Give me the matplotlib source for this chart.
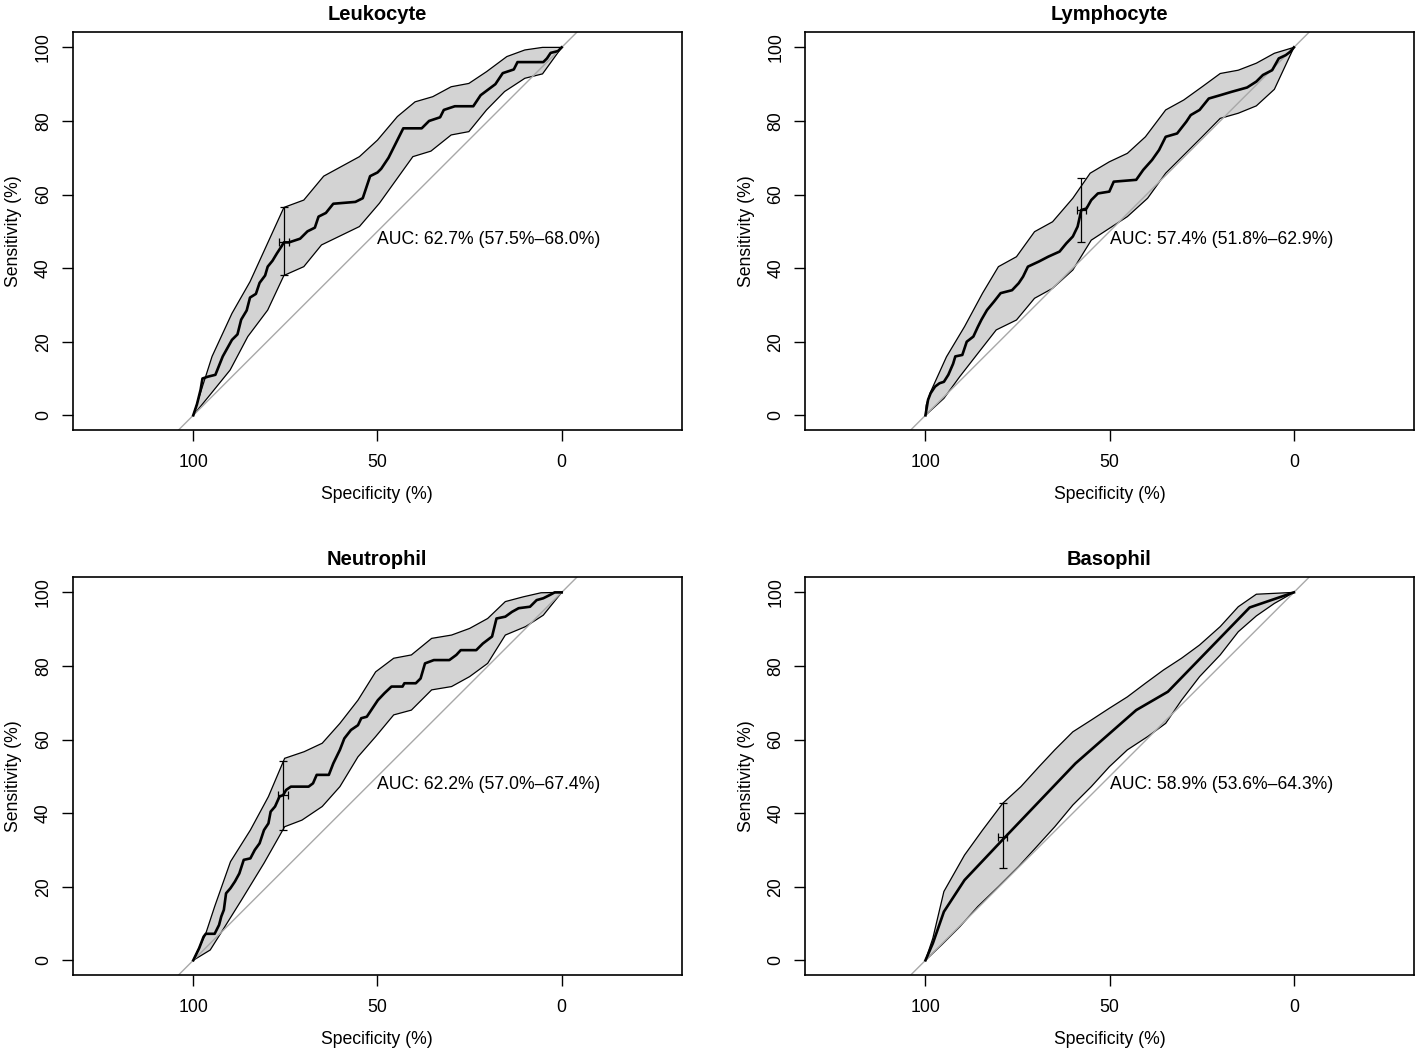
import matplotlib
matplotlib.use("Agg")
import matplotlib.pyplot as plt

plt.rcParams['font.family'] = ['Liberation Sans', 'DejaVu Sans']

titles = ["Leukocyte", "Lymphocyte", "Neutrophil", "Basophil"]
auc = [62.7, 57.4, 62.2, 58.9]
auc_lo = [57.5, 51.8, 57.0, 53.6]
auc_hi = [68.0, 62.9, 67.4, 64.3]

# main ROC curves (specificity %, sensitivity %)
leuk_spec = [100, 99, 98, 97.5, 96, 94, 92, 89.5, 88, 87, 85.5, 84.6, 83, 82, 80.5, 79.8, 78.5, 77.3, 76, 75.4,
             74, 71, 69, 67, 66, 64, 62, 56, 54, 53, 52, 50, 49, 47, 46, 44, 43, 38, 36, 33,
             32, 29, 24, 22, 20, 18, 16, 13, 12, 5, 4, 3, 1, 0]
leuk_sens = [0, 3, 7, 10, 10.5, 11, 16, 20.5, 22, 26, 28.5, 32, 33, 36, 38, 40.4, 42, 44, 46, 47,
             47, 48, 50, 51, 54, 55, 57.5, 58, 59, 62, 65, 66, 67, 70, 72, 76, 78, 78, 80, 81,
             83, 84, 84, 87, 88.5, 90, 93, 94, 96, 96, 97, 98.5, 99, 100]
lymph_spec = [100, 99.3, 98.6, 97.4, 96.2, 95, 93.8, 92.5, 91.9, 90, 88.8, 87, 85.8, 84.8, 83.3, 81.4, 79.6, 76.5,
              74.7, 73.5, 72.2, 69.2, 66.7, 63.6, 61.8, 60, 58.7, 57.7, 56.3, 55, 53.2, 50.1, 48.9, 42.8, 40.9,
              38.5, 36.6, 34.8, 31.7, 29.2, 28, 25.6, 23.1, 20, 17, 12.7, 10.2, 8.4, 5.9, 4.1, 2.2, 1, 0]
lymph_sens = [0, 4.2, 6, 7.8, 8.7, 9.1, 11, 14, 16, 16.4, 20, 21.4, 24, 26, 28.6, 30.9, 33.2, 34,
              35.9, 37.7, 40.4, 41.8, 43.1, 44.5, 46.7, 48.6, 51.3, 55.8, 56.2, 58.5, 60.3, 60.8, 63.5, 64, 66.7,
              69.4, 72.1, 75.7, 76.6, 79.8, 81.6, 83, 86.1, 87, 87.9, 89.1, 90.7, 92.5, 93.8, 97, 97.9, 98.8, 100]
neut_spec = [100, 98.4, 97.2, 96.6, 94.2, 93, 92.4, 91.7, 91.1, 89.9, 88.7, 87.5, 86.3, 84.5, 83.3, 82, 80.8,
             79.6, 79, 77.8, 76.6, 75.6, 74.8, 73.5, 68.7, 67.5, 66.5, 63.2, 62, 60.2, 59, 57.2, 55.3, 54.4,
             52.9, 51.7, 49.9, 48.1, 46.2, 43.2, 42.7, 39.6, 38.3, 37.1, 34.7, 30.5, 28.6, 27.4, 23.2, 21.4,
             18.9, 17.7, 15.3, 13.5, 11.7, 8.6, 6.8, 5, 3.2, 1.9, 0]
neut_sens = [0, 3.3, 6.4, 7.2, 7.2, 9.6, 11.9, 13.7, 18.2, 19.6, 21.4, 23.6, 27.3, 27.7, 30, 31.8, 35.4,
             37.2, 40.4, 41.8, 44.5, 44.9, 46.3, 47.2, 47.2, 48.1, 50.4, 50.4, 53.5, 57.2, 60.3, 62.6, 63.9, 65.8,
             66.2, 68, 70.7, 72.6, 74.4, 74.4, 75.3, 75.3, 76.6, 80.7, 81.6, 81.6, 83, 84.3, 84.3, 86.1,
             88, 92.9, 93.4, 94.7, 95.7, 96.1, 97.9, 98.4, 99.3, 100, 100]
baso_spec = [100, 98, 95, 89.4, 79.6, 59.3, 42.8, 34.2, 12, 0]
baso_sens = [0, 4.6, 13.2, 21.8, 32.2, 53.5, 68, 73, 95.9, 100]

# confidence bands, upper and lower edge
leuk_up_spec = [100, 94.9, 89.5, 84.6, 75.4, 70, 64.6, 54.9, 50, 44.6, 39.8, 35, 30, 25.2, 20.4, 14.9, 10, 5.2, 0]
leuk_up_sens = [0, 16, 27.7, 36.3, 56.5, 58.5, 65, 70.3, 74.8, 81.2, 85.2, 86.6, 89.3, 90.2, 93.4, 97.5, 99.3, 100, 100]
leuk_lo_spec = [100, 95.5, 90, 85.2, 79.8, 75.4, 70, 65.2, 54.9, 49.5, 40.4, 35.5, 30, 25.2, 20.4, 15.5, 10, 5.2, 0]
leuk_lo_sens = [0, 5.5, 12.3, 21.4, 28.6, 38, 40.4, 46.3, 51.3, 57.6, 70.3, 71.8, 76.2, 77.1, 83, 88, 91.6, 92.8, 100]

lymph_up_spec = [100, 99.8, 98.6, 94.3, 89.4, 84.5, 80.2, 75.3, 70.4, 65.5, 60, 55.3, 50.1, 45.2, 40.3, 34.8,
                 29.9, 24.9, 20, 15.1, 10.2, 5.3, 0]
lymph_up_sens = [0, 2.8, 6.4, 15.9, 24.1, 33.2, 40.4, 43.1, 49.9, 52.6, 59, 65.8, 68.9, 71.2, 75.7, 83,
                 85.7, 89.3, 92.9, 93.8, 95.7, 98.4, 100]
lymph_lo_spec = [100, 95, 90.7, 85.8, 80.8, 75.3, 70.4, 65.5, 60, 55, 50.1, 45.2, 39.7, 34.8, 29.9, 24.9,
                 20, 15.1, 10.2, 5.3, 0]
lymph_lo_sens = [0, 4.6, 10.5, 16.8, 23.2, 25.9, 31.8, 34.5, 39.5, 47.6, 50.8, 54, 59, 65.8, 70.7, 75.7,
                 80.7, 82.1, 84.1, 88.6, 100]

neut_up_spec = [100, 96.6, 94.2, 89.9, 84.5, 79.6, 75.2, 69.9, 65, 60.2, 55.3, 50.5, 45.6, 40.8, 35.3, 29.9,
                25, 20.1, 15.3, 10.4, 5.6, 0]
neut_up_sens = [0, 7.3, 14.6, 26.8, 35.4, 44.5, 54.9, 56.7, 59, 64.4, 70.7, 78.4, 82.1, 83, 87.5, 88.4,
                90.2, 92.9, 97.5, 98.8, 99.9, 100]
neut_lo_spec = [100, 95.4, 91.7, 86.9, 80.8, 75.2, 70.5, 65, 60.2, 55.3, 50.5, 45.6, 40.8, 35.3, 29.9, 25,
                20.1, 15.3, 9.8, 5, 0]
neut_lo_sens = [0, 2.8, 8.7, 16.4, 26.4, 36.3, 38.1, 41.8, 47.2, 55.3, 60.8, 66.7, 68, 73.5, 74.4, 77.1,
                80.7, 88.4, 90.7, 93.8, 100]

baso_up_spec = [100, 98, 95, 89.4, 84.5, 79, 74.1, 69.2, 64.9, 60, 55, 50.1, 45.2, 40.3, 35.4, 30.5, 25.6,
                20, 15.1, 10.2, 0]
baso_up_sens = [0, 6, 18.7, 28.6, 35.4, 42.7, 47.2, 52.6, 57.2, 62.1, 65.3, 68.5, 71.6, 75.3, 78.9, 82.1, 85.7,
                90.7, 96.1, 99.5, 100]
baso_lo_spec = [100, 95.6, 90.7, 85.8, 80.2, 74.7, 69.8, 64.9, 60, 55, 50.1, 45.2, 39.7, 34.8, 30.5, 25.6,
                20, 15.1, 10.2, 5.3, 0]
baso_lo_sens = [0, 4.2, 9.1, 14.6, 20, 25.5, 30.9, 36.3, 42.2, 47.2, 52.6, 57.2, 60.8, 64.4, 70.7, 77.1,
                83, 89.3, 93.6, 97, 100]

# best threshold point with its CI (spec, sens, spec range, sens range)
thr_spec = [75.4, 57.7, 75.6, 78.9]
thr_sens = [47.0, 55.8, 44.9, 33.6]
thr_spec_lo = [73.9, 56.3, 74.2, 77.8]
thr_spec_hi = [76.7, 59.0, 76.9, 80.2]
thr_sens_lo = [38.0, 47.0, 35.4, 25.0]
thr_sens_hi = [56.5, 64.6, 54.2, 42.7]

curves = [(leuk_spec, leuk_sens), (lymph_spec, lymph_sens), (neut_spec, neut_sens), (baso_spec, baso_sens)]
bands = [(leuk_up_spec, leuk_up_sens, leuk_lo_spec, leuk_lo_sens),
         (lymph_up_spec, lymph_up_sens, lymph_lo_spec, lymph_lo_sens),
         (neut_up_spec, neut_up_sens, neut_lo_spec, neut_lo_sens),
         (baso_up_spec, baso_up_sens, baso_lo_spec, baso_lo_sens)]

W, H = 1416, 1051
# axes boxes in pixels: left, top
boxes = [(72.8, 32.3), (805, 32.3), (72.8, 577.3), (805, 577.3)]
box_w, box_h = 609, 397.7

fig = plt.figure(figsize=(W / 100, H / 100), dpi=100)

for i in range(4):
    left, top = boxes[i]
    ax = fig.add_axes([left / W, 1 - (top + box_h) / H, box_w / W, box_h / H])

    up_x, up_y, lo_x, lo_y = bands[i]
    poly_x = list(up_x) + list(lo_x)[::-1]
    poly_y = list(up_y) + list(lo_y)[::-1]
    ax.fill(poly_x, poly_y, facecolor='#D3D3D3', edgecolor='black', linewidth=0.9, zorder=1)

    ax.axline((100, 0), (0, 100), color='#A8A8A8', linewidth=1.0, zorder=2)

    sx, sy = curves[i]
    ax.plot(sx, sy, color='black', linewidth=1.9, zorder=3)

    ax.errorbar([thr_spec[i]], [thr_sens[i]],
                xerr=[[thr_spec[i] - thr_spec_lo[i]], [thr_spec_hi[i] - thr_spec[i]]],
                yerr=[[thr_sens[i] - thr_sens_lo[i]], [thr_sens_hi[i] - thr_sens[i]]],
                fmt='none', ecolor='black', elinewidth=0.9, capsize=3, capthick=0.9, zorder=4)

    ax.text(50, 50, "AUC: %.1f%% (%.1f%%\u2013%.1f%%)" % (auc[i], auc_lo[i], auc_hi[i]),
            ha='left', va='top', fontsize=12.7, zorder=5)

    ax.set_xlim(132.7, -32.6)
    ax.set_ylim(-4, 104.1)
    ax.set_xticks([100, 50, 0])
    ax.set_yticks([0, 20, 40, 60, 80, 100])
    ax.tick_params(axis='x', length=8, width=1, labelsize=12.7, pad=9)
    ax.tick_params(axis='y', length=8, width=1, labelsize=12.7, pad=7)
    for lab in ax.get_yticklabels():
        lab.set_rotation(90)
        lab.set_va('center')
    for sp in ax.spines.values():
        sp.set_linewidth(1.2)

    ax.set_xlabel("Specificity (%)", fontsize=12.7, labelpad=11)
    ax.set_ylabel("Sensitivity (%)", fontsize=12.7, labelpad=9)
    ax.set_title(titles[i], fontsize=14.5, fontweight='bold', pad=9)

fig.savefig("out.png", dpi=100)
